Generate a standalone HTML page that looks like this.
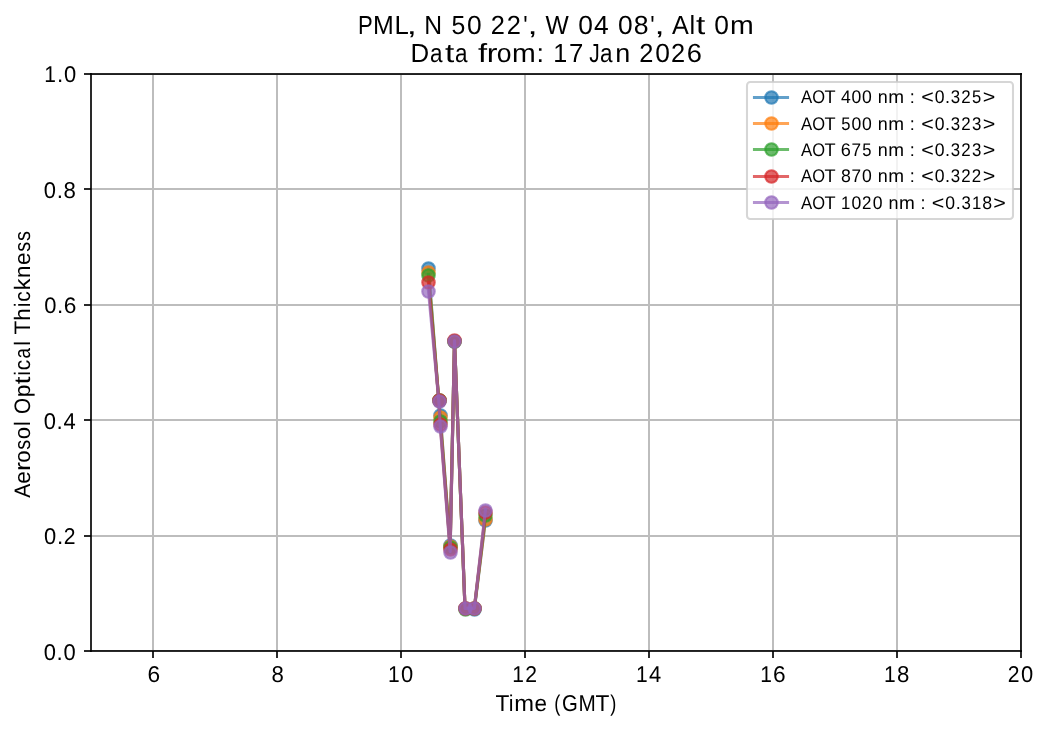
<!DOCTYPE html>
<html><head><meta charset="utf-8"><title>PML AOT</title>
<style>
html,body{margin:0;padding:0;background:#fff;}
body{width:1049px;height:729px;overflow:hidden;font-family:"Liberation Sans",sans-serif;}
svg{display:block;position:absolute;left:0;top:0;will-change:transform;}
text{font-family:"Liberation Sans",sans-serif;fill:#000;text-rendering:geometricPrecision;}
.g{fill:#bdbdbd;}
.s{fill:#000;fill-opacity:0.835;}
</style></head><body>
<svg width="1049" height="729" viewBox="0 0 1049 729">
<rect x="0" y="0" width="1049" height="729" fill="#ffffff"/>

<g class="g" shape-rendering="crispEdges">
<rect x="152" y="74" width="2" height="577"/>
<rect x="276" y="74" width="2" height="577"/>
<rect x="400" y="74" width="2" height="577"/>
<rect x="524" y="74" width="2" height="577"/>
<rect x="648" y="74" width="2" height="577"/>
<rect x="772" y="74" width="2" height="577"/>
<rect x="896" y="74" width="2" height="577"/>
<rect x="1020" y="74" width="1" height="577"/>
<rect x="91" y="188" width="930" height="2"/>
<rect x="91" y="304" width="930" height="2"/>
<rect x="91" y="419" width="930" height="2"/>
<rect x="91" y="535" width="930" height="2"/>
<rect x="91" y="74" width="930" height="1"/>
<rect x="91" y="650" width="930" height="1"/>
</g>
<g fill="#1f77b4" stroke="#1f77b4">
<polyline points="428.45,267.62 438.80,400.45 440.23,414.60 450.15,545.40 454.49,340.68 465.03,608.35 474.33,609.21 485.49,519.70" fill="none" stroke-width="3.125" stroke-opacity="0.7" stroke-linejoin="round" stroke-linecap="square"/>
<circle cx="428.5" cy="268.5" r="6.25" fill-opacity="0.7" stroke-opacity="0.7" stroke-width="2.083"/>
<circle cx="439.5" cy="400.5" r="6.25" fill-opacity="0.7" stroke-opacity="0.7" stroke-width="2.083"/>
<circle cx="440.5" cy="415.5" r="6.25" fill-opacity="0.7" stroke-opacity="0.7" stroke-width="2.083"/>
<circle cx="450.5" cy="545.5" r="6.25" fill-opacity="0.7" stroke-opacity="0.7" stroke-width="2.083"/>
<circle cx="454.5" cy="341.5" r="6.25" fill-opacity="0.7" stroke-opacity="0.7" stroke-width="2.083"/>
<circle cx="465.5" cy="608.5" r="6.25" fill-opacity="0.7" stroke-opacity="0.7" stroke-width="2.083"/>
<circle cx="474.5" cy="609.5" r="6.25" fill-opacity="0.7" stroke-opacity="0.7" stroke-width="2.083"/>
<circle cx="485.5" cy="520.5" r="6.25" fill-opacity="0.7" stroke-opacity="0.7" stroke-width="2.083"/>
</g>
<g fill="#ff7f0e" stroke="#ff7f0e">
<polyline points="428.45,271.67 438.80,400.45 440.23,416.62 450.15,545.98 454.49,340.97 465.03,608.35 474.33,608.35 485.49,518.84" fill="none" stroke-width="3.125" stroke-opacity="0.7" stroke-linejoin="round" stroke-linecap="square"/>
<circle cx="428.5" cy="272.5" r="6.25" fill-opacity="0.7" stroke-opacity="0.7" stroke-width="2.083"/>
<circle cx="439.5" cy="400.5" r="6.25" fill-opacity="0.7" stroke-opacity="0.7" stroke-width="2.083"/>
<circle cx="440.5" cy="417.5" r="6.25" fill-opacity="0.7" stroke-opacity="0.7" stroke-width="2.083"/>
<circle cx="450.5" cy="546.5" r="6.25" fill-opacity="0.7" stroke-opacity="0.7" stroke-width="2.083"/>
<circle cx="454.5" cy="341.5" r="6.25" fill-opacity="0.7" stroke-opacity="0.7" stroke-width="2.083"/>
<circle cx="465.5" cy="608.5" r="6.25" fill-opacity="0.7" stroke-opacity="0.7" stroke-width="2.083"/>
<circle cx="474.5" cy="608.5" r="6.25" fill-opacity="0.7" stroke-opacity="0.7" stroke-width="2.083"/>
<circle cx="485.5" cy="519.5" r="6.25" fill-opacity="0.7" stroke-opacity="0.7" stroke-width="2.083"/>
</g>
<g fill="#2ca02c" stroke="#2ca02c">
<polyline points="428.45,274.55 438.80,400.45 440.23,420.95 450.15,546.56 454.49,340.68 465.03,609.21 474.33,608.35 485.49,515.37" fill="none" stroke-width="3.125" stroke-opacity="0.7" stroke-linejoin="round" stroke-linecap="square"/>
<circle cx="428.5" cy="275.5" r="6.25" fill-opacity="0.7" stroke-opacity="0.7" stroke-width="2.083"/>
<circle cx="439.5" cy="400.5" r="6.25" fill-opacity="0.7" stroke-opacity="0.7" stroke-width="2.083"/>
<circle cx="440.5" cy="421.5" r="6.25" fill-opacity="0.7" stroke-opacity="0.7" stroke-width="2.083"/>
<circle cx="450.5" cy="547.5" r="6.25" fill-opacity="0.7" stroke-opacity="0.7" stroke-width="2.083"/>
<circle cx="454.5" cy="341.5" r="6.25" fill-opacity="0.7" stroke-opacity="0.7" stroke-width="2.083"/>
<circle cx="465.5" cy="609.5" r="6.25" fill-opacity="0.7" stroke-opacity="0.7" stroke-width="2.083"/>
<circle cx="474.5" cy="608.5" r="6.25" fill-opacity="0.7" stroke-opacity="0.7" stroke-width="2.083"/>
<circle cx="485.5" cy="515.5" r="6.25" fill-opacity="0.7" stroke-opacity="0.7" stroke-width="2.083"/>
</g>
<g fill="#d62728" stroke="#d62728">
<polyline points="428.45,282.35 438.80,399.87 440.23,423.55 450.15,548.58 454.49,340.39 465.03,608.35 474.33,608.35 485.49,512.48" fill="none" stroke-width="3.125" stroke-opacity="0.7" stroke-linejoin="round" stroke-linecap="square"/>
<circle cx="428.5" cy="282.5" r="6.25" fill-opacity="0.7" stroke-opacity="0.7" stroke-width="2.083"/>
<circle cx="439.5" cy="400.5" r="6.25" fill-opacity="0.7" stroke-opacity="0.7" stroke-width="2.083"/>
<circle cx="440.5" cy="424.5" r="6.25" fill-opacity="0.7" stroke-opacity="0.7" stroke-width="2.083"/>
<circle cx="450.5" cy="549.5" r="6.25" fill-opacity="0.7" stroke-opacity="0.7" stroke-width="2.083"/>
<circle cx="454.5" cy="340.5" r="6.25" fill-opacity="0.7" stroke-opacity="0.7" stroke-width="2.083"/>
<circle cx="465.5" cy="608.5" r="6.25" fill-opacity="0.7" stroke-opacity="0.7" stroke-width="2.083"/>
<circle cx="474.5" cy="608.5" r="6.25" fill-opacity="0.7" stroke-opacity="0.7" stroke-width="2.083"/>
<circle cx="485.5" cy="512.5" r="6.25" fill-opacity="0.7" stroke-opacity="0.7" stroke-width="2.083"/>
</g>
<g fill="#9467bd" stroke="#9467bd">
<polyline points="428.45,290.72 438.80,400.74 440.23,425.57 450.15,551.75 454.49,340.68 465.03,608.35 474.33,608.35 485.49,509.60" fill="none" stroke-width="3.125" stroke-opacity="0.7" stroke-linejoin="round" stroke-linecap="square"/>
<circle cx="428.5" cy="291.5" r="6.25" fill-opacity="0.7" stroke-opacity="0.7" stroke-width="2.083"/>
<circle cx="439.5" cy="401.5" r="6.25" fill-opacity="0.7" stroke-opacity="0.7" stroke-width="2.083"/>
<circle cx="440.5" cy="426.5" r="6.25" fill-opacity="0.7" stroke-opacity="0.7" stroke-width="2.083"/>
<circle cx="450.5" cy="552.5" r="6.25" fill-opacity="0.7" stroke-opacity="0.7" stroke-width="2.083"/>
<circle cx="454.5" cy="341.5" r="6.25" fill-opacity="0.7" stroke-opacity="0.7" stroke-width="2.083"/>
<circle cx="465.5" cy="608.5" r="6.25" fill-opacity="0.7" stroke-opacity="0.7" stroke-width="2.083"/>
<circle cx="474.5" cy="608.5" r="6.25" fill-opacity="0.7" stroke-opacity="0.7" stroke-width="2.083"/>
<circle cx="485.5" cy="510.5" r="6.25" fill-opacity="0.7" stroke-opacity="0.7" stroke-width="2.083"/>
</g>
<g class="s" shape-rendering="crispEdges">
<rect x="90" y="73" width="2" height="579"/>
<rect x="1020" y="73" width="2" height="579"/>
<rect x="90" y="73" width="932" height="2"/>
<rect x="90" y="650" width="932" height="2"/>
<rect x="152" y="651" width="2" height="7"/>
<rect x="276" y="651" width="2" height="7"/>
<rect x="400" y="651" width="2" height="7"/>
<rect x="524" y="651" width="2" height="7"/>
<rect x="648" y="651" width="2" height="7"/>
<rect x="772" y="651" width="2" height="7"/>
<rect x="896" y="651" width="2" height="7"/>
<rect x="1020" y="651" width="2" height="7"/>
<rect x="84" y="73" width="7" height="2"/>
<rect x="84" y="188" width="7" height="2"/>
<rect x="84" y="304" width="7" height="2"/>
<rect x="84" y="419" width="7" height="2"/>
<rect x="84" y="535" width="7" height="2"/>
<rect x="84" y="650" width="7" height="2"/>
</g>
<rect x="747" y="82" width="266" height="137" rx="3.33" ry="3.33" fill="#ffffff" fill-opacity="0.8" stroke="#cccccc" stroke-opacity="0.8" stroke-width="2.083"/>
<g fill="#1f77b4" stroke="#1f77b4"><line x1="754.5" y1="97.5" x2="787.5" y2="97.5" stroke-width="3.125" stroke-opacity="0.7" stroke-linecap="square"/><circle cx="771.5" cy="97.5" r="6.25" fill-opacity="0.7" stroke-opacity="0.7" stroke-width="2.083"/></g>
<g fill="#ff7f0e" stroke="#ff7f0e"><line x1="754.5" y1="123.5" x2="787.5" y2="123.5" stroke-width="3.125" stroke-opacity="0.7" stroke-linecap="square"/><circle cx="771.5" cy="123.5" r="6.25" fill-opacity="0.7" stroke-opacity="0.7" stroke-width="2.083"/></g>
<g fill="#2ca02c" stroke="#2ca02c"><line x1="754.5" y1="149.5" x2="787.5" y2="149.5" stroke-width="3.125" stroke-opacity="0.7" stroke-linecap="square"/><circle cx="771.5" cy="149.5" r="6.25" fill-opacity="0.7" stroke-opacity="0.7" stroke-width="2.083"/></g>
<g fill="#d62728" stroke="#d62728"><line x1="754.5" y1="176.5" x2="787.5" y2="176.5" stroke-width="3.125" stroke-opacity="0.7" stroke-linecap="square"/><circle cx="771.5" cy="176.5" r="6.25" fill-opacity="0.7" stroke-opacity="0.7" stroke-width="2.083"/></g>
<g fill="#9467bd" stroke="#9467bd"><line x1="754.5" y1="202.5" x2="787.5" y2="202.5" stroke-width="3.125" stroke-opacity="0.7" stroke-linecap="square"/><circle cx="771.5" cy="202.5" r="6.25" fill-opacity="0.7" stroke-opacity="0.7" stroke-width="2.083"/></g>
<text y="102.63" font-size="18.33"><tspan x="800.97" textLength="11.20" lengthAdjust="spacingAndGlyphs">A</tspan><tspan x="812.15" textLength="12.82" lengthAdjust="spacingAndGlyphs">O</tspan><tspan x="824.62" textLength="11.10" lengthAdjust="spacingAndGlyphs">T</tspan><tspan x="835.24"> </tspan><tspan x="840.93" textLength="9.77" lengthAdjust="spacingAndGlyphs">4</tspan><tspan x="851.51" textLength="9.77" lengthAdjust="spacingAndGlyphs">0</tspan><tspan x="862.09" textLength="9.77" lengthAdjust="spacingAndGlyphs">0</tspan><tspan x="872.25"> </tspan><tspan x="877.86" textLength="9.99" lengthAdjust="spacingAndGlyphs">n</tspan><tspan x="888.33" textLength="15.82" lengthAdjust="spacingAndGlyphs">m</tspan><tspan x="904.27"> </tspan><tspan x="909.86" textLength="5.01" lengthAdjust="spacingAndGlyphs">:</tspan><tspan x="915.15"> </tspan><tspan x="921.15" textLength="12.54" lengthAdjust="spacingAndGlyphs">&lt;</tspan><tspan x="934.78" textLength="9.77" lengthAdjust="spacingAndGlyphs">0</tspan><tspan x="945.08" textLength="5.01" lengthAdjust="spacingAndGlyphs">.</tspan><tspan x="950.86" textLength="9.38" lengthAdjust="spacingAndGlyphs">3</tspan><tspan x="961.18" textLength="9.42" lengthAdjust="spacingAndGlyphs">2</tspan><tspan x="972.01" textLength="9.22" lengthAdjust="spacingAndGlyphs">5</tspan><tspan x="982.67" textLength="12.54" lengthAdjust="spacingAndGlyphs">&gt;</tspan></text>
<text y="129.633" font-size="18.33"><tspan x="800.97" textLength="11.20" lengthAdjust="spacingAndGlyphs">A</tspan><tspan x="812.15" textLength="12.82" lengthAdjust="spacingAndGlyphs">O</tspan><tspan x="824.62" textLength="11.10" lengthAdjust="spacingAndGlyphs">T</tspan><tspan x="835.24"> </tspan><tspan x="841.14" textLength="9.22" lengthAdjust="spacingAndGlyphs">5</tspan><tspan x="851.51" textLength="9.77" lengthAdjust="spacingAndGlyphs">0</tspan><tspan x="862.09" textLength="9.77" lengthAdjust="spacingAndGlyphs">0</tspan><tspan x="872.25"> </tspan><tspan x="877.86" textLength="9.99" lengthAdjust="spacingAndGlyphs">n</tspan><tspan x="888.33" textLength="15.82" lengthAdjust="spacingAndGlyphs">m</tspan><tspan x="904.27"> </tspan><tspan x="909.86" textLength="5.01" lengthAdjust="spacingAndGlyphs">:</tspan><tspan x="915.15"> </tspan><tspan x="921.15" textLength="12.54" lengthAdjust="spacingAndGlyphs">&lt;</tspan><tspan x="934.78" textLength="9.77" lengthAdjust="spacingAndGlyphs">0</tspan><tspan x="945.08" textLength="5.01" lengthAdjust="spacingAndGlyphs">.</tspan><tspan x="950.86" textLength="9.38" lengthAdjust="spacingAndGlyphs">3</tspan><tspan x="961.18" textLength="9.42" lengthAdjust="spacingAndGlyphs">2</tspan><tspan x="972.01" textLength="9.38" lengthAdjust="spacingAndGlyphs">3</tspan><tspan x="982.67" textLength="12.54" lengthAdjust="spacingAndGlyphs">&gt;</tspan></text>
<text y="155.637" font-size="18.33"><tspan x="800.97" textLength="11.20" lengthAdjust="spacingAndGlyphs">A</tspan><tspan x="812.15" textLength="12.82" lengthAdjust="spacingAndGlyphs">O</tspan><tspan x="824.62" textLength="11.10" lengthAdjust="spacingAndGlyphs">T</tspan><tspan x="835.24"> </tspan><tspan x="840.76" textLength="10.11" lengthAdjust="spacingAndGlyphs">6</tspan><tspan x="851.58" textLength="9.56" lengthAdjust="spacingAndGlyphs">7</tspan><tspan x="862.30" textLength="9.22" lengthAdjust="spacingAndGlyphs">5</tspan><tspan x="872.25"> </tspan><tspan x="877.86" textLength="9.99" lengthAdjust="spacingAndGlyphs">n</tspan><tspan x="888.33" textLength="15.82" lengthAdjust="spacingAndGlyphs">m</tspan><tspan x="904.27"> </tspan><tspan x="909.86" textLength="5.01" lengthAdjust="spacingAndGlyphs">:</tspan><tspan x="915.15"> </tspan><tspan x="921.15" textLength="12.54" lengthAdjust="spacingAndGlyphs">&lt;</tspan><tspan x="934.78" textLength="9.77" lengthAdjust="spacingAndGlyphs">0</tspan><tspan x="945.08" textLength="5.01" lengthAdjust="spacingAndGlyphs">.</tspan><tspan x="950.86" textLength="9.38" lengthAdjust="spacingAndGlyphs">3</tspan><tspan x="961.18" textLength="9.42" lengthAdjust="spacingAndGlyphs">2</tspan><tspan x="972.01" textLength="9.38" lengthAdjust="spacingAndGlyphs">3</tspan><tspan x="982.67" textLength="12.54" lengthAdjust="spacingAndGlyphs">&gt;</tspan></text>
<text y="181.63000000000002" font-size="18.33"><tspan x="800.97" textLength="11.20" lengthAdjust="spacingAndGlyphs">A</tspan><tspan x="812.15" textLength="12.82" lengthAdjust="spacingAndGlyphs">O</tspan><tspan x="824.62" textLength="11.10" lengthAdjust="spacingAndGlyphs">T</tspan><tspan x="835.24"> </tspan><tspan x="840.88" textLength="9.88" lengthAdjust="spacingAndGlyphs">8</tspan><tspan x="851.58" textLength="9.56" lengthAdjust="spacingAndGlyphs">7</tspan><tspan x="862.09" textLength="9.77" lengthAdjust="spacingAndGlyphs">0</tspan><tspan x="872.25"> </tspan><tspan x="877.86" textLength="9.99" lengthAdjust="spacingAndGlyphs">n</tspan><tspan x="888.33" textLength="15.82" lengthAdjust="spacingAndGlyphs">m</tspan><tspan x="904.27"> </tspan><tspan x="909.86" textLength="5.01" lengthAdjust="spacingAndGlyphs">:</tspan><tspan x="915.15"> </tspan><tspan x="921.15" textLength="12.54" lengthAdjust="spacingAndGlyphs">&lt;</tspan><tspan x="934.78" textLength="9.77" lengthAdjust="spacingAndGlyphs">0</tspan><tspan x="945.08" textLength="5.01" lengthAdjust="spacingAndGlyphs">.</tspan><tspan x="950.86" textLength="9.38" lengthAdjust="spacingAndGlyphs">3</tspan><tspan x="961.18" textLength="9.42" lengthAdjust="spacingAndGlyphs">2</tspan><tspan x="971.75" textLength="9.42" lengthAdjust="spacingAndGlyphs">2</tspan><tspan x="982.67" textLength="12.54" lengthAdjust="spacingAndGlyphs">&gt;</tspan></text>
<text y="208.633" font-size="18.33"><tspan x="800.97" textLength="11.20" lengthAdjust="spacingAndGlyphs">A</tspan><tspan x="812.15" textLength="12.82" lengthAdjust="spacingAndGlyphs">O</tspan><tspan x="824.62" textLength="11.10" lengthAdjust="spacingAndGlyphs">T</tspan><tspan x="835.24"> </tspan><tspan x="841.07" textLength="9.33" lengthAdjust="spacingAndGlyphs">1</tspan><tspan x="851.51" textLength="9.77" lengthAdjust="spacingAndGlyphs">0</tspan><tspan x="862.04" textLength="9.42" lengthAdjust="spacingAndGlyphs">2</tspan><tspan x="872.66" textLength="9.77" lengthAdjust="spacingAndGlyphs">0</tspan><tspan x="882.83"> </tspan><tspan x="888.43" textLength="9.99" lengthAdjust="spacingAndGlyphs">n</tspan><tspan x="898.90" textLength="15.82" lengthAdjust="spacingAndGlyphs">m</tspan><tspan x="914.85"> </tspan><tspan x="920.44" textLength="5.01" lengthAdjust="spacingAndGlyphs">:</tspan><tspan x="925.73"> </tspan><tspan x="931.72" textLength="12.54" lengthAdjust="spacingAndGlyphs">&lt;</tspan><tspan x="945.36" textLength="9.77" lengthAdjust="spacingAndGlyphs">0</tspan><tspan x="955.66" textLength="5.01" lengthAdjust="spacingAndGlyphs">.</tspan><tspan x="961.44" textLength="9.38" lengthAdjust="spacingAndGlyphs">3</tspan><tspan x="971.94" textLength="9.33" lengthAdjust="spacingAndGlyphs">1</tspan><tspan x="982.32" textLength="9.88" lengthAdjust="spacingAndGlyphs">8</tspan><tspan x="993.25" textLength="12.54" lengthAdjust="spacingAndGlyphs">&gt;</tspan></text>
<text y="34.0" font-size="26.25"><tspan x="358.06" textLength="14.75" lengthAdjust="spacingAndGlyphs">P</tspan><tspan x="372.90" textLength="20.76" lengthAdjust="spacingAndGlyphs">M</tspan><tspan x="394.41" textLength="14.30" lengthAdjust="spacingAndGlyphs">L</tspan><tspan x="406.65" textLength="10.12" lengthAdjust="spacingAndGlyphs">,</tspan><tspan x="415.94"> </tspan><tspan x="424.31" textLength="17.83" lengthAdjust="spacingAndGlyphs">N</tspan><tspan x="442.59"> </tspan><tspan x="451.47" textLength="13.83" lengthAdjust="spacingAndGlyphs">5</tspan><tspan x="467.06" textLength="14.66" lengthAdjust="spacingAndGlyphs">0</tspan><tspan x="482.34"> </tspan><tspan x="490.84" textLength="14.13" lengthAdjust="spacingAndGlyphs">2</tspan><tspan x="506.75" textLength="14.13" lengthAdjust="spacingAndGlyphs">2</tspan><tspan x="523.33" textLength="4.41" lengthAdjust="spacingAndGlyphs">'</tspan><tspan x="527.63" textLength="10.12" lengthAdjust="spacingAndGlyphs">,</tspan><tspan x="536.92"> </tspan><tspan x="545.59" textLength="23.26" lengthAdjust="spacingAndGlyphs">W</tspan><tspan x="569.59"> </tspan><tspan x="578.15" textLength="14.66" lengthAdjust="spacingAndGlyphs">0</tspan><tspan x="594.06" textLength="14.66" lengthAdjust="spacingAndGlyphs">4</tspan><tspan x="609.35"> </tspan><tspan x="617.91" textLength="14.66" lengthAdjust="spacingAndGlyphs">0</tspan><tspan x="633.74" textLength="14.82" lengthAdjust="spacingAndGlyphs">8</tspan><tspan x="650.34" textLength="4.41" lengthAdjust="spacingAndGlyphs">'</tspan><tspan x="654.63" textLength="10.12" lengthAdjust="spacingAndGlyphs">,</tspan><tspan x="663.92"> </tspan><tspan x="672.02" textLength="16.80" lengthAdjust="spacingAndGlyphs">A</tspan><tspan x="689.61" textLength="5.68" lengthAdjust="spacingAndGlyphs">l</tspan><tspan x="696.08" textLength="9.28" lengthAdjust="spacingAndGlyphs">t</tspan><tspan x="705.72"> </tspan><tspan x="714.29" textLength="14.66" lengthAdjust="spacingAndGlyphs">0</tspan><tspan x="729.95" textLength="23.73" lengthAdjust="spacingAndGlyphs">m</tspan></text>
<text y="61.8" font-size="26.25"><tspan x="410.52" textLength="18.68" lengthAdjust="spacingAndGlyphs">D</tspan><tspan x="429.98" textLength="12.50" lengthAdjust="spacingAndGlyphs">a</tspan><tspan x="444.92" textLength="9.28" lengthAdjust="spacingAndGlyphs">t</tspan><tspan x="455.10" textLength="12.50" lengthAdjust="spacingAndGlyphs">a</tspan><tspan x="469.88"> </tspan><tspan x="477.93" textLength="9.12" lengthAdjust="spacingAndGlyphs">f</tspan><tspan x="486.77" textLength="10.67" lengthAdjust="spacingAndGlyphs">r</tspan><tspan x="496.67" textLength="14.78" lengthAdjust="spacingAndGlyphs">o</tspan><tspan x="512.08" textLength="23.73" lengthAdjust="spacingAndGlyphs">m</tspan><tspan x="536.51" textLength="7.52" lengthAdjust="spacingAndGlyphs">:</tspan><tspan x="544.47"> </tspan><tspan x="553.25" textLength="14.00" lengthAdjust="spacingAndGlyphs">1</tspan><tspan x="569.06" textLength="14.34" lengthAdjust="spacingAndGlyphs">7</tspan><tspan x="584.23"> </tspan><tspan x="589.36" textLength="10.50" lengthAdjust="spacingAndGlyphs">J</tspan><tspan x="600.10" textLength="12.50" lengthAdjust="spacingAndGlyphs">a</tspan><tspan x="615.35" textLength="14.99" lengthAdjust="spacingAndGlyphs">n</tspan><tspan x="630.72"> </tspan><tspan x="639.22" textLength="14.13" lengthAdjust="spacingAndGlyphs">2</tspan><tspan x="655.19" textLength="14.66" lengthAdjust="spacingAndGlyphs">0</tspan><tspan x="671.03" textLength="14.13" lengthAdjust="spacingAndGlyphs">2</tspan><tspan x="686.74" textLength="15.17" lengthAdjust="spacingAndGlyphs">6</tspan></text>
<text y="710.7" font-size="22.92"><tspan x="495.43" textLength="13.88" lengthAdjust="spacingAndGlyphs">T</tspan><tspan x="508.66" textLength="4.73" lengthAdjust="spacingAndGlyphs">i</tspan><tspan x="514.24" textLength="19.77" lengthAdjust="spacingAndGlyphs">m</tspan><tspan x="534.45" textLength="12.51" lengthAdjust="spacingAndGlyphs">e</tspan><tspan x="547.10"> </tspan><tspan x="554.29" textLength="6.11" lengthAdjust="spacingAndGlyphs">(</tspan><tspan x="562.03" textLength="15.80" lengthAdjust="spacingAndGlyphs">G</tspan><tspan x="578.40" textLength="17.30" lengthAdjust="spacingAndGlyphs">M</tspan><tspan x="595.50" textLength="13.88" lengthAdjust="spacingAndGlyphs">T</tspan><tspan x="610.28" textLength="6.11" lengthAdjust="spacingAndGlyphs">)</tspan></text>
<text transform="translate(29.5 497.87) rotate(-90)" y="0" font-size="22.40"><tspan x="0.12" textLength="14.00" lengthAdjust="spacingAndGlyphs">A</tspan><tspan x="14.10" textLength="12.51" lengthAdjust="spacingAndGlyphs">e</tspan><tspan x="26.87" textLength="8.89" lengthAdjust="spacingAndGlyphs">r</tspan><tspan x="35.05" textLength="12.32" lengthAdjust="spacingAndGlyphs">o</tspan><tspan x="48.18" textLength="9.98" lengthAdjust="spacingAndGlyphs">s</tspan><tspan x="58.70" textLength="12.32" lengthAdjust="spacingAndGlyphs">o</tspan><tspan x="71.78" textLength="4.73" lengthAdjust="spacingAndGlyphs">l</tspan><tspan x="77.05"> </tspan><tspan x="83.88" textLength="16.02" lengthAdjust="spacingAndGlyphs">O</tspan><tspan x="100.55" textLength="12.61" lengthAdjust="spacingAndGlyphs">p</tspan><tspan x="113.50" textLength="7.74" lengthAdjust="spacingAndGlyphs">t</tspan><tspan x="122.09" textLength="4.73" lengthAdjust="spacingAndGlyphs">i</tspan><tspan x="127.61" textLength="10.45" lengthAdjust="spacingAndGlyphs">c</tspan><tspan x="139.28" textLength="10.42" lengthAdjust="spacingAndGlyphs">a</tspan><tspan x="152.15" textLength="4.73" lengthAdjust="spacingAndGlyphs">l</tspan><tspan x="157.42"> </tspan><tspan x="163.48" textLength="13.88" lengthAdjust="spacingAndGlyphs">T</tspan><tspan x="177.13" textLength="12.58" lengthAdjust="spacingAndGlyphs">h</tspan><tspan x="190.58" textLength="4.73" lengthAdjust="spacingAndGlyphs">i</tspan><tspan x="196.10" textLength="10.45" lengthAdjust="spacingAndGlyphs">c</tspan><tspan x="207.64" textLength="11.65" lengthAdjust="spacingAndGlyphs">k</tspan><tspan x="219.80" textLength="12.49" lengthAdjust="spacingAndGlyphs">n</tspan><tspan x="232.83" textLength="12.51" lengthAdjust="spacingAndGlyphs">e</tspan><tspan x="246.05" textLength="9.98" lengthAdjust="spacingAndGlyphs">s</tspan><tspan x="256.93" textLength="9.98" lengthAdjust="spacingAndGlyphs">s</tspan></text>
<text y="81.63" font-size="22.92"><tspan x="44.15" textLength="11.67" lengthAdjust="spacingAndGlyphs">1</tspan><tspan x="56.91" textLength="6.26" lengthAdjust="spacingAndGlyphs">.</tspan><tspan x="63.89" textLength="12.21" lengthAdjust="spacingAndGlyphs">0</tspan></text>
<text y="197.8" font-size="22.92"><tspan x="43.77" textLength="12.21" lengthAdjust="spacingAndGlyphs">0</tspan><tspan x="56.70" textLength="6.26" lengthAdjust="spacingAndGlyphs">.</tspan><tspan x="63.62" textLength="12.35" lengthAdjust="spacingAndGlyphs">8</tspan></text>
<text y="312.63" font-size="22.40"><tspan x="44.18" textLength="12.21" lengthAdjust="spacingAndGlyphs">0</tspan><tspan x="57.11" textLength="6.26" lengthAdjust="spacingAndGlyphs">.</tspan><tspan x="63.88" textLength="12.64" lengthAdjust="spacingAndGlyphs">6</tspan></text>
<text y="428.8" font-size="22.92"><tspan x="43.64" textLength="12.21" lengthAdjust="spacingAndGlyphs">0</tspan><tspan x="56.58" textLength="6.26" lengthAdjust="spacingAndGlyphs">.</tspan><tspan x="63.56" textLength="12.22" lengthAdjust="spacingAndGlyphs">4</tspan></text>
<text y="543.63" font-size="22.92"><tspan x="43.97" textLength="12.21" lengthAdjust="spacingAndGlyphs">0</tspan><tspan x="56.91" textLength="6.26" lengthAdjust="spacingAndGlyphs">.</tspan><tspan x="63.84" textLength="11.77" lengthAdjust="spacingAndGlyphs">2</tspan></text>
<text y="659.8" font-size="22.92"><tspan x="43.64" textLength="12.21" lengthAdjust="spacingAndGlyphs">0</tspan><tspan x="56.58" textLength="6.26" lengthAdjust="spacingAndGlyphs">.</tspan><tspan x="63.56" textLength="12.21" lengthAdjust="spacingAndGlyphs">0</tspan></text>
<text y="681.71" font-size="22.92"><tspan x="147.45" textLength="12.64" lengthAdjust="spacingAndGlyphs">6</tspan></text>
<text y="681.71" font-size="22.92"><tspan x="271.38" textLength="12.35" lengthAdjust="spacingAndGlyphs">8</tspan></text>
<text y="681.71" font-size="22.92"><tspan x="387.94" textLength="11.67" lengthAdjust="spacingAndGlyphs">1</tspan><tspan x="401.04" textLength="12.21" lengthAdjust="spacingAndGlyphs">0</tspan></text>
<text y="681.71" font-size="22.92"><tspan x="512.28" textLength="11.67" lengthAdjust="spacingAndGlyphs">1</tspan><tspan x="525.33" textLength="11.77" lengthAdjust="spacingAndGlyphs">2</tspan></text>
<text y="681.71" font-size="22.92"><tspan x="635.94" textLength="11.67" lengthAdjust="spacingAndGlyphs">1</tspan><tspan x="649.04" textLength="12.22" lengthAdjust="spacingAndGlyphs">4</tspan></text>
<text y="681.71" font-size="22.92"><tspan x="760.22" textLength="11.67" lengthAdjust="spacingAndGlyphs">1</tspan><tspan x="773.11" textLength="12.64" lengthAdjust="spacingAndGlyphs">6</tspan></text>
<text y="681.71" font-size="22.92"><tspan x="884.00" textLength="11.67" lengthAdjust="spacingAndGlyphs">1</tspan><tspan x="897.04" textLength="12.35" lengthAdjust="spacingAndGlyphs">8</tspan></text>
<text y="681.71" font-size="22.92"><tspan x="1007.71" textLength="11.77" lengthAdjust="spacingAndGlyphs">2</tspan><tspan x="1021.04" textLength="12.21" lengthAdjust="spacingAndGlyphs">0</tspan></text>
</svg>
</body></html>
